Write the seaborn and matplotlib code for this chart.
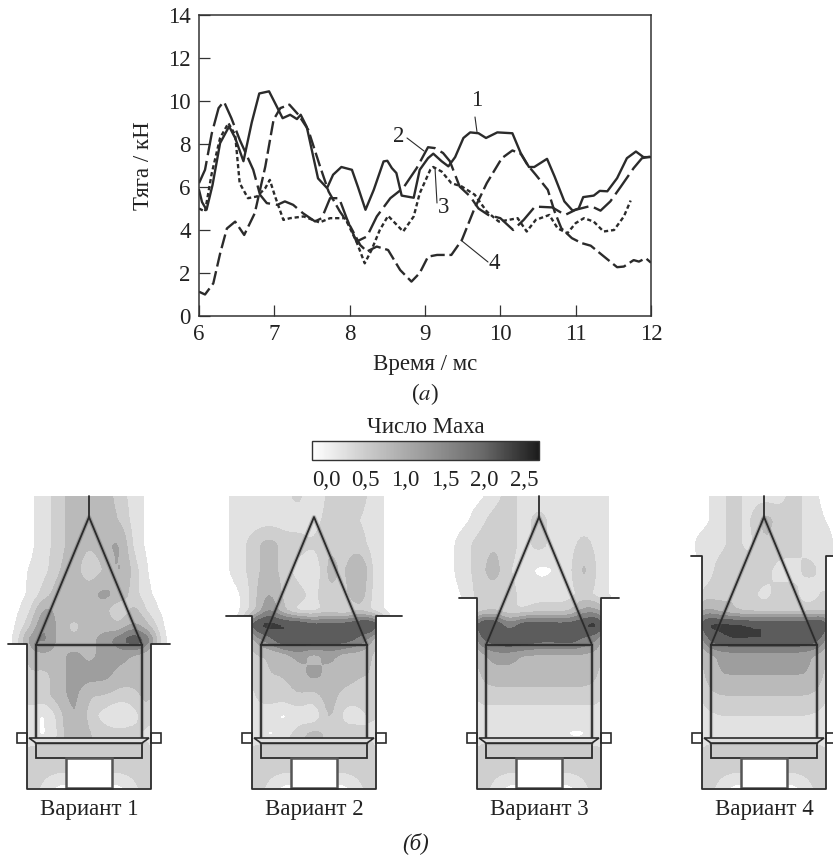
import numpy as np
import pandas as pd
import matplotlib
matplotlib.use("Agg")
import matplotlib.pyplot as plt
import seaborn as sns
from matplotlib.cm import ScalarMappable
from matplotlib.colors import LinearSegmentedColormap, Normalize
from matplotlib.patches import Polygon, Rectangle

# --- curves ---
x1 = [6, 6.04, 6.1, 6.18, 6.28, 6.4, 6.48, 6.59, 6.7, 6.8, 6.93, 7.02, 7.11, 7.21, 7.3, 7.35, 7.43, 7.58, 7.7, 7.78, 7.89, 8.03, 8.11, 8.21, 8.32, 8.45, 8.5, 8.56, 8.62, 8.69, 8.85, 8.93, 9.04, 9.11, 9.22, 9.31, 9.4, 9.51, 9.6, 9.71, 9.81, 9.96, 10.16, 10.27, 10.38, 10.45, 10.62, 10.72, 10.85, 10.96, 11.04, 11.1, 11.24, 11.32, 11.42, 11.55, 11.68, 11.8, 11.9, 12]
y1 = [5.87, 5.3, 4.94, 6.1, 8.04, 8.82, 8.28, 7.2, 9.0, 10.35, 10.45, 9.83, 9.2, 9.36, 9.16, 9.36, 8.8, 6.4, 5.95, 6.57, 6.93, 6.8, 6.0, 4.94, 5.87, 7.19, 7.22, 6.88, 6.65, 5.6, 5.5, 6.8, 7.34, 7.55, 7.2, 6.96, 7.39, 8.28, 8.54, 8.5, 8.28, 8.54, 8.5, 7.58, 6.93, 6.93, 7.31, 6.49, 5.33, 4.9, 5.0, 5.53, 5.6, 5.82, 5.8, 6.41, 7.34, 7.65, 7.39, 7.39]
x2 = [6, 6.08, 6.17, 6.26, 6.33, 6.43, 6.54, 6.72, 6.81, 6.9, 7.04, 7.14, 7.25, 7.38, 7.54, 7.63, 7.74, 7.86, 7.96, 8.09, 8.23, 8.36, 8.54, 8.71, 8.89, 9.04, 9.13, 9.24, 9.33, 9.46, 9.6, 9.71, 9.84, 10, 10.17, 10.31, 10.46, 10.69, 10.86, 11, 11.2, 11.33, 11.46, 11.6, 11.77, 11.88, 12]
y2 = [6.18, 6.8, 8.5, 9.67, 9.98, 9.2, 8.2, 6.8, 5.64, 5.25, 5.17, 5.33, 5.17, 4.78, 4.4, 4.55, 5.48, 5.48, 4.55, 3.46, 3.7, 4.63, 5.48, 5.95, 6.88, 7.85, 7.81, 7.58, 7.2, 6.02, 5.56, 5.0, 4.7, 4.55, 4.0, 4.47, 5.09, 5.05, 4.7, 4.94, 5.12, 4.9, 5.33, 6.02, 6.88, 7.34, 7.42]
x3 = [6, 6.08, 6.17, 6.28, 6.39, 6.48, 6.54, 6.65, 6.77, 6.88, 6.94, 7.01, 7.12, 7.21, 7.39, 7.6, 7.74, 7.94, 8.09, 8.2, 8.29, 8.4, 8.51, 8.71, 8.85, 8.93, 9.07, 9.11, 9.22, 9.35, 9.49, 9.66, 9.82, 9.98, 10.11, 10.23, 10.35, 10.47, 10.65, 10.76, 10.89, 11, 11.11, 11.24, 11.37, 11.51, 11.64, 11.73]
y3 = [5.0, 4.86, 6.65, 8.28, 8.97, 8.43, 6.18, 5.48, 5.56, 5.95, 6.33, 5.56, 4.47, 4.55, 4.63, 4.35, 4.55, 4.55, 3.46, 2.45, 3.07, 4.0, 4.66, 3.93, 4.63, 5.71, 6.8, 6.93, 6.72, 6.18, 6.02, 5.64, 4.86, 4.39, 4.47, 4.55, 3.93, 4.47, 4.7, 4.08, 3.85, 4.32, 4.55, 4.39, 3.93, 4.0, 4.63, 5.37]
x4 = [6, 6.08, 6.19, 6.28, 6.37, 6.48, 6.6, 6.74, 6.88, 6.99, 7.08, 7.2, 7.32, 7.45, 7.6, 7.72, 7.87, 8.01, 8.14, 8.23, 8.36, 8.51, 8.67, 8.82, 8.93, 9.04, 9.16, 9.35, 9.49, 9.65, 9.82, 10.02, 10.16, 10.27, 10.36, 10.47, 10.63, 10.72, 10.81, 10.95, 11.08, 11.2, 11.35, 11.55, 11.64, 11.77, 11.84, 11.93, 12]
y4 = [1.13, 1.0, 1.52, 2.9, 4.07, 4.39, 3.77, 4.78, 6.95, 9.13, 9.67, 9.83, 9.36, 8.66, 7.03, 5.79, 4.86, 4.16, 3.3, 3.0, 3.23, 3.07, 2.14, 1.6, 2.0, 2.76, 2.84, 2.84, 3.54, 4.94, 6.18, 7.34, 7.7, 7.55, 7.03, 6.57, 5.87, 4.86, 4.08, 3.62, 3.39, 3.27, 2.84, 2.27, 2.3, 2.6, 2.53, 2.69, 2.48]

x_ticks = [6, 7, 8, 9, 10, 11, 12]
y_ticks = [0, 2, 4, 6, 8, 10, 12, 14]

# --- Mach number fields of the four variants, rows top to bottom ---
field_cols = [-90, -75, -60, -45, -30, -15, 0, 15, 30, 45, 60, 75, 90]
field_rows = [496, 520, 545, 570, 595, 610, 625, 640, 655, 675, 695, 715, 735, 760, 788]
field_1 = [
    [.1, .1, .1, .35, .65, 1, 1, 1, .65, .35, .1, .1, .1],
    [.1, .1, .1, .35, .65, 1, 1, 1, .8, .35, .1, .1, .1],
    [.1, .1, .1, .35, .65, 1, .8, 1, 1.3, .35, .1, .1, .1],
    [.1, .1, .2, .35, .8, 1, .5, .8, 1.3, .65, .1, .1, .1],
    [.1, .1, .2, .65, 1, 1, 1, 1.3, 1, .65, .2, .1, .1],
    [.1, .1, .35, 1.3, 1, 1, 1, 1, .35, 1, .35, .1, .1],
    [.1, .1, .65, 1.6, 1, .65, 1, 1, .8, 1.3, .8, .1, .1],
    [.1, .1, 1.3, 1.6, 1, .8, 1, 1.3, 1.6, 2.2, 1.6, .1, .1],
    [.1, .1, 1, 1.1, 1, 1.3, 1, 1.3, 1.3, 1.1, 1, .1, .1],
    [.1, .1, .8, .65, 1, 1.3, 1.3, 1.3, 1, 1, 1, .1, .1],
    [.1, .1, .8, .65, 1, 1.3, .8, .8, .65, .65, 1, .1, .1],
    [.1, .1, .35, .1, .6, 1.3, .65, .35, .1, .35, .8, .1, .1],
    [.1, .1, .35, .1, .5, 1.3, .8, .65, .65, .65, .35, .1, .1],
    [.1, .1, .8, .8, .8, .8, .8, .8, .8, .8, .8, .1, .1],
    [.1, .1, .8, .35, .1, .1, .1, .1, .1, .35, .8, .1, .1],
]
field_2 = [
    [.1, .35, .35, .35, .35, .65, .1, .65, .65, .65, .35, .1, .1],
    [.1, .35, .35, .35, .35, .35, .35, .65, .65, .5, .35, .1, .1],
    [.1, .35, .65, 1, .65, .65, .5, .8, .65, .65, .35, .1, .1],
    [.1, .35, .65, 1, .65, .35, .1, 1, .65, 1.3, .35, .1, .1],
    [.1, .1, .65, 1.3, .65, .65, .35, .8, .65, 1.1, .35, .1, .1],
    [.1, .1, .65, 1.6, .8, .35, .35, .65, .35, .8, .35, .1, .1],
    [.1, .1, 2.2, 2.4, 2.2, 2.2, 1.9, 2, 2, 2.2, 2.4, .1, .1],
    [.1, .1, 1.2, 1.6, 2.2, 2.2, 2, 2, 2, 1.7, 1.1, .1, .1],
    [.1, .1, .8, .8, 1, 1.3, 1, 1.3, 1, 1, .8, .1, .1],
    [.1, .1, .65, .8, .8, 1, 1.3, 1, 1, .8, .8, .1, .1],
    [.1, .1, .5, .65, .65, .8, .65, 1, .65, .65, .8, .1, .1],
    [.1, .1, .4, .35, .1, .35, .1, 1, .35, .35, .65, .1, .1],
    [.1, .1, .4, .1, .35, .65, 1, .65, .65, .65, .35, .1, .1],
    [.1, .1, .8, .8, .8, .8, .8, .8, .8, .8, .8, .1, .1],
    [.1, .1, .8, .35, .1, .1, .1, .1, .1, .35, .8, .1, .1],
]
field_3 = [
    [.1, .1, .1, .35, .65, .35, .35, .35, .35, .35, .35, .1, .1],
    [.1, .1, .35, .65, .65, .35, .65, .35, .35, .35, .35, .1, .1],
    [.1, .35, .65, .8, .65, .35, .65, .35, .35, .65, .35, .1, .1],
    [.1, .35, .65, 1, .5, .35, .1, .2, .35, 1, .35, .1, .1],
    [.1, .2, .65, .65, .65, .35, .35, .35, .35, .65, .35, .1, .1],
    [.1, .1, .65, .8, .5, .5, .65, .65, .65, 1.3, 1.2, .1, .1],
    [.1, .1, 2.2, 2.3, 1.5, 2.1, 2.1, 2, 2, 2.2, 2.5, .1, .1],
    [.1, .1, 1.7, 2, 2.2, 2.1, 1.9, 1.9, 2, 1.7, 1.4, .1, .1],
    [.1, .1, 1, 1.3, 1.3, 1.1, 1.1, 1.1, 1.1, 1.1, 1, .1, .1],
    [.1, .1, .8, 1, 1, 1, 1, 1, 1, 1, .8, .1, .1],
    [.1, .1, .65, .65, .65, .65, .65, .65, .65, .65, .65, .1, .1],
    [.1, .1, .35, .35, .35, .35, .35, .35, .35, .35, .35, .1, .1],
    [.1, .1, .35, .3, .3, .2, .3, .35, .15, .15, .35, .1, .1],
    [.1, .1, .8, .8, .8, .8, .8, .8, .8, .8, .8, .1, .1],
    [.1, .1, .8, .35, .1, .1, .1, .1, .1, .35, .8, .1, .1],
]
field_4 = [
    [.1, .1, .1, .35, .65, .35, .35, .35, .65, .35, .1, .1, .1],
    [.1, .1, .1, .35, .65, .35, 1, .65, .65, .35, .2, .1, .1],
    [.1, .1, .35, .35, .65, .35, .8, .65, .65, .35, .35, .1, .1],
    [.1, .1, .2, .65, .8, .65, .65, .35, .35, .65, .35, .1, .1],
    [.1, .1, .65, .65, .8, .65, .35, .65, .65, .2, .65, .1, .1],
    [.1, .1, 1.3, 1, .8, .65, .65, .65, .65, .65, .8, .1, .1],
    [.1, .1, 2.3, 2.3, 2.3, 2.2, 2.2, 2.2, 2.2, 2.2, 2.4, .1, .1],
    [.1, .1, 1.6, 2.1, 2.2, 2.2, 2.2, 2.2, 2.2, 2.1, 1.6, .1, .1],
    [.1, .1, 1, 1.2, 1.3, 1.3, 1.3, 1.3, 1.3, 1.2, 1, .1, .1],
    [.1, .1, .8, 1.15, 1.15, 1.15, 1.15, 1.15, 1.15, 1.15, .8, .1, .1],
    [.1, .1, .65, .8, .8, .8, .8, .8, .8, .8, .65, .1, .1],
    [.1, .1, .4, .5, .5, .5, .5, .5, .5, .5, .4, .1, .1],
    [.1, .1, .3, .35, .35, .3, .35, .25, .2, .3, .3, .1, .1],
    [.1, .1, .8, .8, .8, .8, .8, .8, .8, .8, .8, .1, .1],
    [.1, .1, .8, .35, .1, .1, .1, .1, .1, .35, .8, .1, .1],
]
fields = [field_1, field_2, field_3, field_4]
mach_levels = [0, .2, .5, .8, 1.15, 1.45, 1.8, 2.2, 2.8]
band_colors = ["#ffffff", "#e2e2e2", "#cfcfcf", "#bababa", "#9e9e9e", "#828282", "#5c5c5c", "#3a3a3a"]
bar_colors = ["#ffffff", "#c9c9c9", "#9a9a9a", "#6a6a6a", "#1c1c1c"]
bar_ticks = [0, 0.5, 1, 1.5, 2, 2.5]
bar_labels = ["0,0", "0,5", "1,0", "1,5", "2,0", "2,5"]

# --- nozzle geometry, figure pixels ---
centers = [89, 314, 539, 764]
cap_y = [644, 616, 598, 556]
flange = [81, 88, 80, 73]
has_stem = [True, False, True, True]
names = ["Вариант 1", "Вариант 2", "Вариант 3", "Вариант 4"]

# curve labels with leaders: text x, y, leader x0, y0, x1, y1
curve_notes = [
    ("1", 477, 100, 475, 117, 477, 132),
    ("2", 399, 137, 407, 138, 424, 151),
    ("3", 444, 207, 435, 168, 437, 203),
    ("4", 494, 263, 462, 241, 488, 262),
]

INK = "#2b2b2b"
TEXT = "#222222"
FS = 16.5
W, H = 833, 855


def soften(z, xs, ys, fine_x, fine_y):
    # only the drawing grid gets finer, so contour edges come out round
    z = np.array([np.interp(fine_x, xs, row) for row in z])
    z = np.array([np.interp(fine_y, ys, col) for col in z.T]).T
    kx = np.array([1, 2, 3, 2, 1]) / 9
    ky = np.array([1, 2, 1]) / 4
    for _ in range(2):
        z = np.apply_along_axis(lambda r: np.convolve(np.pad(r, 2, mode="edge"), kx, "valid"), 1, z)
        z = np.apply_along_axis(lambda c: np.convolve(np.pad(c, 1, mode="edge"), ky, "valid"), 0, z)
    return z


sns.set_theme(style="ticks")
plt.rcParams["font.family"] = ["Liberation Serif", "DejaVu Serif"]
plt.rcParams["mathtext.fontset"] = "stix"

fig = plt.figure(figsize=(W / 100, H / 100), dpi=100)

# --- whole figure overlay in pixels: fields, schematics, texts ---
ov = fig.add_axes([0, 0, 1, 1], zorder=1)
ov.set_xlim(0, W)
ov.set_ylim(H, 0)
ov.axis("off")

fine_x = np.arange(-90, 91, 3)
fine_y = np.arange(496, 789, 2)
for i, cx in enumerate(centers):
    z = soften(np.array(fields[i]), field_cols, field_rows, fine_x, fine_y)
    ov.contourf(cx + fine_x, fine_y, z, levels=mach_levels, colors=band_colors, zorder=1)
    cy = cap_y[i]
    # nothing is shown outside the casing
    ov.add_patch(Rectangle((cx - 92, cy), 30, 800 - cy, fc="white", ec="none", zorder=2))
    ov.add_patch(Rectangle((cx + 62, cy), 30, 800 - cy, fc="white", ec="none", zorder=2))
    # lower part
    ov.add_patch(Rectangle((cx - 53, 743), 106, 15, fc="#cbcbcb", ec=INK, lw=1.3, zorder=3))
    ov.add_patch(Rectangle((cx - 23, 758), 46, 30, fc="white", ec="#555555", lw=1.8, zorder=3))
    ov.add_patch(Rectangle((cx - 72, 733), 10, 10, fc="white", ec=INK, lw=1.2, zorder=3))
    ov.add_patch(Rectangle((cx + 62, 733), 10, 10, fc="white", ec=INK, lw=1.2, zorder=3))
    # soft shadow along the walls, then the walls
    body_x = [cx - 53, cx, cx + 53, cx + 53, cx - 53, cx - 53, cx + 53]
    body_y = [645, 517, 645, 743, 743, 645, 645]
    ov.plot(body_x, body_y, color="#555555", lw=3, alpha=0.3, zorder=4, solid_capstyle="butt")
    ov.plot(body_x, body_y, color=INK, lw=1.3, zorder=5)
    ov.add_patch(Polygon([(cx - 60, 738), (cx + 60, 738), (cx + 53, 743), (cx - 53, 743)], fc="#dedede", ec=INK, lw=1.2, zorder=6))
    ov.plot([cx - flange[i], cx - 62, cx - 62, cx + 62, cx + 62, cx + flange[i]],
            [cy, cy, 789, 789, cy, cy], color=INK, lw=1.3, zorder=5)
    if has_stem[i]:
        ov.plot([cx, cx], [496, 517], color=INK, lw=1.3, zorder=5)
    ov.text(cx, 809, names[i], ha="center", va="center", fontsize=FS, color=TEXT)

for label, tx, ty, x0, y0, x1_, y1_ in curve_notes:
    ov.text(tx, ty, label, ha="center", va="center", fontsize=FS, color=TEXT, zorder=6)
    ov.plot([x0, x1_], [y0, y1_], color=INK, lw=0.8, zorder=6)

ov.text(425, 394, r"($\mathit{a}$)", ha="center", va="center", fontsize=FS, color=TEXT)
ov.text(416, 843, "(б)", ha="center", va="center", fontsize=FS, style="italic", color=TEXT)
ov.text(426, 427, "Число Маха", ha="center", va="center", fontsize=FS, color=TEXT)

# --- thrust curves ---
df = pd.concat([
    pd.DataFrame({"t": x1, "f": y1, "curve": "1"}),
    pd.DataFrame({"t": x2, "f": y2, "curve": "2"}),
    pd.DataFrame({"t": x3, "f": y3, "curve": "3"}),
    pd.DataFrame({"t": x4, "f": y4, "curve": "4"}),
])
ax = fig.add_axes([199 / W, 1 - 316 / H, 452 / W, 301 / H], zorder=2)
ax.patch.set_alpha(0)
sns.lineplot(data=df, x="t", y="f", hue="curve", style="curve",
             palette=[INK] * 4,
             dashes={"1": "", "2": (10, 2.5), "3": (1.8, 1.2), "4": (6, 2)},
             estimator=None, sort=False, legend=False, lw=1.7, ax=ax)
ax.set_xlim(6, 12)
ax.set_ylim(0, 14)
ax.set_xticks(x_ticks)
ax.set_yticks(y_ticks)
ax.tick_params(direction="in", length=8, width=0.9, color="#333333", labelsize=FS, labelcolor=TEXT, pad=6)
ax.set_xlabel("Время / мс", fontsize=FS, color=TEXT, labelpad=6)
ax.set_ylabel("Тяга / кН", fontsize=FS, color=TEXT, labelpad=10)
for s in ax.spines.values():
    s.set_visible(True)
    s.set_color("#333333")
    s.set_linewidth(1.1)

# --- colour bar ---
cax = fig.add_axes([312 / W, 1 - 460 / H, 227 / W, 19 / H], zorder=2)
cmap = LinearSegmentedColormap.from_list("mach", bar_colors)
cb = fig.colorbar(ScalarMappable(Normalize(-0.18, 2.69), cmap), cax=cax, orientation="horizontal")
cb.set_ticks(bar_ticks)
cb.set_ticklabels(bar_labels)
cb.ax.tick_params(length=0, labelsize=FS, labelcolor=TEXT, pad=7)
cb.outline.set_edgecolor("#333333")
cb.outline.set_linewidth(1)

fig.savefig("out.png", dpi=100)
